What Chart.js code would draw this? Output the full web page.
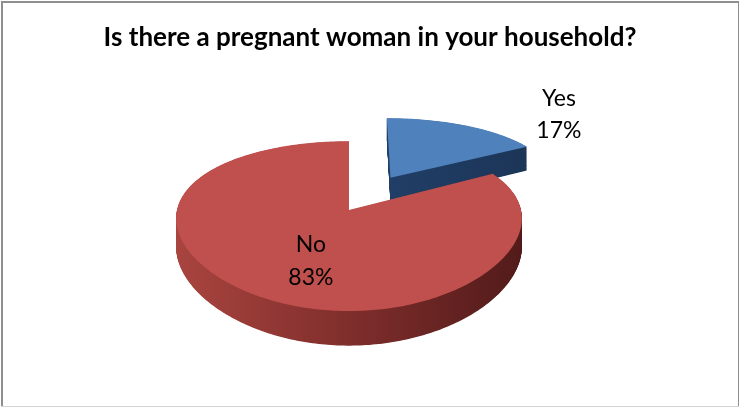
<!DOCTYPE html>
<html>
<head>
<meta charset="utf-8">
<script src="https://cdn.jsdelivr.net/npm/chart.js@4.4.1/dist/chart.umd.min.js"></script>
<style>
  html, body { margin: 0; padding: 0; background: #fff; }
  #wrap { width: 740px; height: 407px; }
</style>
</head>
<body>
<div id="wrap"><canvas id="pieChart"></canvas></div>
<script>
const categories = ['Yes', 'No'];
const shares = [17, 83];

const topColors = ['#4f81bd', '#c0504d'];
const sideColors = [
    ['#2f5584', '#22406a', '#1c3658'],
    ['#a9443f', '#7f2e2c', '#521b1a']
];
const pulledOut = [85, 0];

// fake 3D view: tilted pie with a bit of perspective, extruded downwards
const tilt = 0.476;
const persp = { x: 0.1, y: 0.19 };
const depth = 28;
const center = { x: 349, y: 210 };

function project(arc, px, py, h) {
    const R = arc.outerRadius;
    const u = px - arc.x;
    const v = py - arc.y;
    const sx = 1 / (1 - persp.x * v / R);
    const sy = 1 / (1 - persp.y * v / R);
    return { x: center.x + u * sx, y: center.y + (v * tilt + h) * sy };
}

function sliceOrigin(arc) {
    const mid = (arc.startAngle + arc.endAngle) / 2;
    const pull = arc.options.offset || 0;
    return { x: arc.x + Math.cos(mid) * pull, y: arc.y + Math.sin(mid) * pull, mid: mid };
}

function slicePath(ctx, arc, h) {
    const o = sliceOrigin(arc);
    const steps = Math.max(8, Math.ceil((arc.endAngle - arc.startAngle) * 60));
    ctx.beginPath();
    let p = project(arc, o.x, o.y, h);
    ctx.moveTo(p.x, p.y);
    for (let s = 0; s <= steps; s++) {
        const a = arc.startAngle + (arc.endAngle - arc.startAngle) * s / steps;
        p = project(arc, o.x + Math.cos(a) * arc.outerRadius, o.y + Math.sin(a) * arc.outerRadius, h);
        ctx.lineTo(p.x, p.y);
    }
    ctx.closePath();
}

const pie3d = {
    id: 'pie3d',
    beforeDatasetsDraw(chart) {
        const ctx = chart.ctx;
        const arcs = chart.getDatasetMeta(0).data;
        // back slices first
        const order = arcs.map((a, i) => i).sort((a, b) => sliceOrigin(arcs[a]).y - sliceOrigin(arcs[b]).y);

        order.forEach(i => {
            const arc = arcs[i];
            const g = ctx.createLinearGradient(center.x - arc.outerRadius, 0, center.x + arc.outerRadius, 0);
            g.addColorStop(0, sideColors[i][0]);
            g.addColorStop(0.5, sideColors[i][1]);
            g.addColorStop(1, sideColors[i][2]);
            ctx.fillStyle = g;
            for (let d = depth; d >= 0.5; d -= 0.5) {
                slicePath(ctx, arc, d);
                ctx.fill();
            }
        });

        order.forEach(i => {
            ctx.fillStyle = topColors[i];
            slicePath(ctx, arcs[i], 0);
            ctx.fill();
        });
        return false;
    },
    afterDraw(chart) {
        const ctx = chart.ctx;
        const arcs = chart.getDatasetMeta(0).data;

        ctx.save();
        ctx.font = '23px Lato';
        ctx.fillStyle = '#000';
        ctx.textAlign = 'center';
        ctx.textBaseline = 'alphabetic';
        arcs.forEach((arc, i) => {
            const o = sliceOrigin(arc);
            const outside = shares[i] < 25;
            const rr = arc.outerRadius * (outside ? 1 : 0.42);
            const p = project(arc, o.x + Math.cos(o.mid) * rr, o.y + Math.sin(o.mid) * rr, 0);
            const lines = [categories[i], shares[i] + '%'];
            if (outside) {
                ctx.fillText(lines[0], p.x + 94, p.y - 19);
                ctx.fillText(lines[1], p.x + 94, p.y + 13);
            } else {
                ctx.fillText(lines[0], p.x, p.y + 10);
                ctx.fillText(lines[1], p.x, p.y + 43);
            }
        });

        // chart frame
        ctx.fillStyle = '#8e8e8e';
        ctx.fillRect(1, 1, 738, 2);
        ctx.fillRect(1, 1, 2, 406);
        ctx.fillRect(738, 1, 1, 406);
        ctx.fillStyle = '#d4d4d4';
        ctx.fillRect(1, 406, 738, 1);
        ctx.restore();
    }
};

new Chart(document.getElementById('pieChart'), {
    type: 'pie',
    data: {
        labels: categories,
        datasets: [{
            data: shares,
            backgroundColor: topColors,
            borderWidth: 0,
            offset: pulledOut,
            radius: 172
        }]
    },
    options: {
        responsive: true,
        maintainAspectRatio: false,
        animation: false,
        plugins: {
            legend: { display: false },
            tooltip: { enabled: false },
            title: {
                display: true,
                text: 'Is there a pregnant woman in your household?',
                color: '#000',
                font: { family: 'Lato', size: 26, weight: 'bold' },
                padding: { top: 22, bottom: 10 }
            }
        }
    },
    plugins: [pie3d]
});
</script>
</body>
</html>
